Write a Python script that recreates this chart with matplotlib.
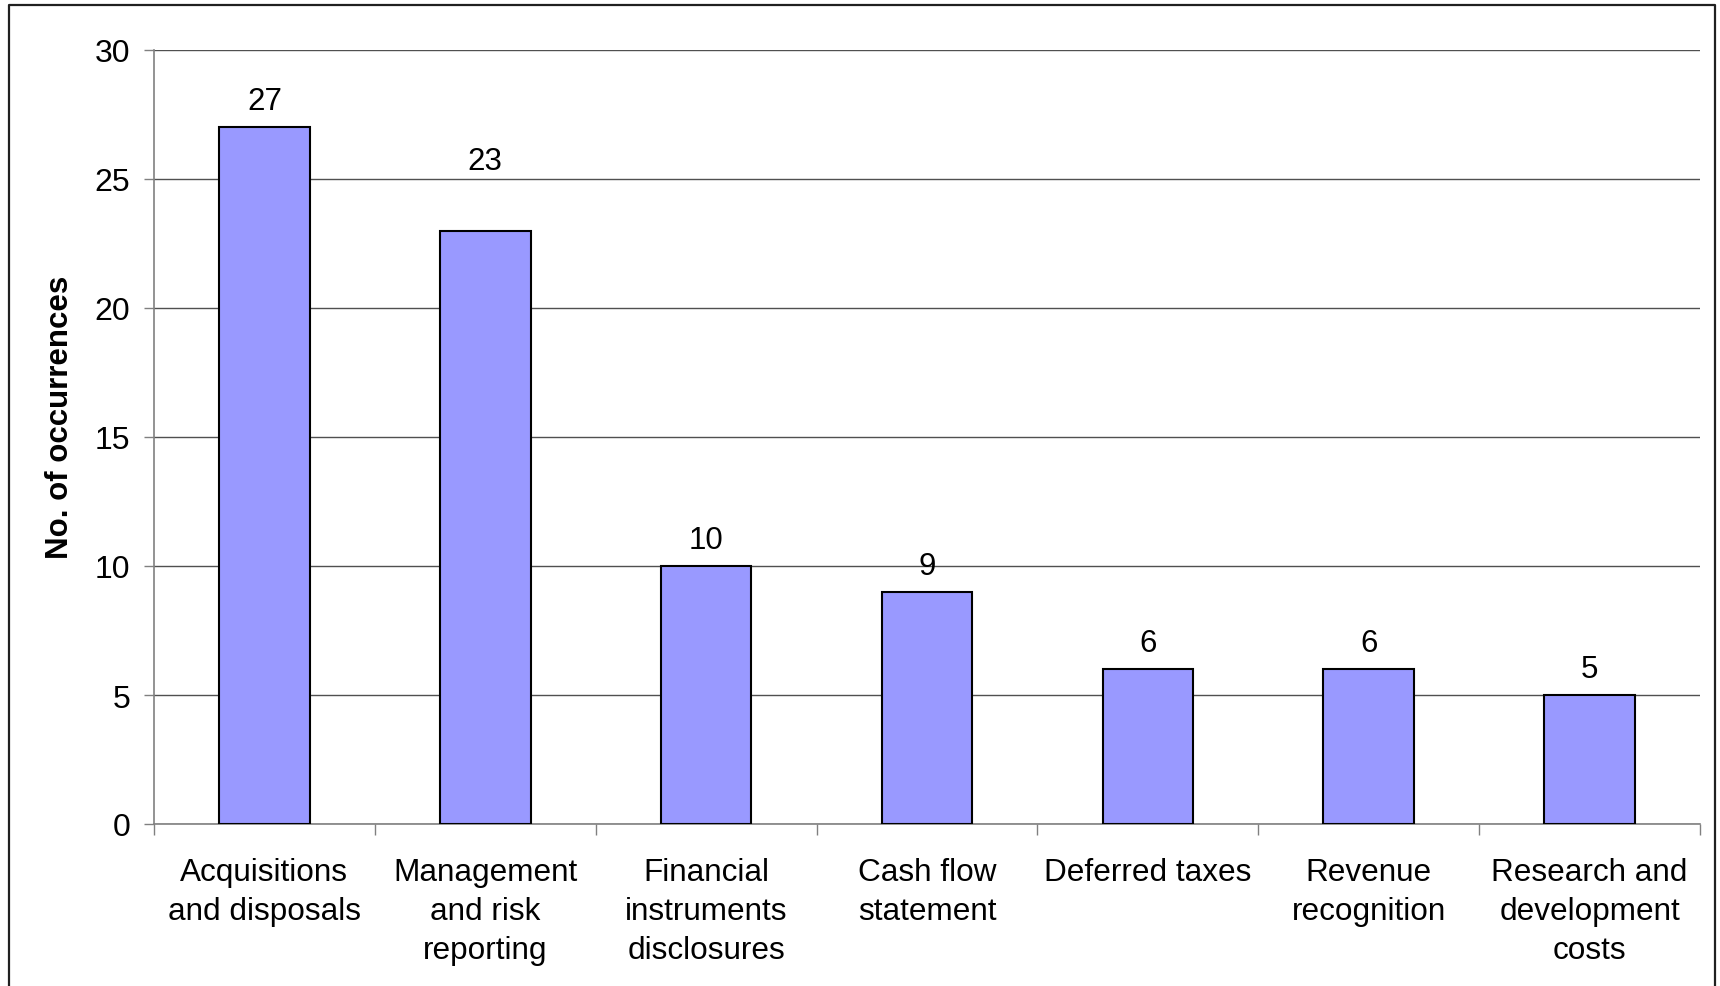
import numpy as np
import matplotlib
matplotlib.use('Agg')
import matplotlib.pyplot as plt
from matplotlib.lines import Line2D

categories = ['Acquisitions\nand disposals', 'Management\nand risk\nreporting',
              'Financial\ninstruments\ndisclosures', 'Cash flow\nstatement',
              'Deferred taxes', 'Revenue\nrecognition',
              'Research and\ndevelopment\ncosts']
counts = [27, 23, 10, 9, 6, 6, 5]
yticks = [0, 5, 10, 15, 20, 25, 30]

plt.rcParams['font.family'] = ['Liberation Sans', 'DejaVu Sans']

fig = plt.figure(figsize=(17.2, 9.87), dpi=100)
ax = fig.add_axes([154/1720, 1-825/987, (1700-154)/1720, (825-51)/987])

x = np.arange(len(categories))
bars = ax.bar(x, counts, width=0.41, color='#9999ff', edgecolor='black', linewidth=1.5, zorder=3)

# data labels (the 23 one sits higher in the original)
extra = {1: 31}
for i, (b, v) in enumerate(zip(bars, counts)):
    ax.annotate(str(v), (b.get_x() + b.get_width()/2, v), xytext=(0, 8 + extra.get(i, 0)),
                textcoords='offset points', ha='center', va='bottom', fontsize=22.5)

ax.set_xlim(-0.5, len(categories) - 0.5)
ax.set_ylim(0, 30)
ax.set_yticks(yticks)
ax.tick_params(axis='y', labelsize=23, length=7, width=1, color='#808080', pad=10)
ax.yaxis.grid(True, color='#505050', linewidth=1, zorder=0)

# category boundaries get the ticks, labels sit in the middle
ax.set_xticks(np.arange(len(categories) + 1) - 0.5)
ax.set_xticklabels([])
ax.tick_params(axis='x', which='major', length=8, width=1, color='#808080')
ax.set_xticks(x, minor=True)
ax.set_xticklabels(categories, minor=True, fontsize=22.7, linespacing=1.38)
ax.tick_params(axis='x', which='minor', length=0, pad=24)

for s in ['top', 'right']:
    ax.spines[s].set_visible(False)
for s in ['left', 'bottom']:
    ax.spines[s].set_color('#808080')
    ax.spines[s].set_linewidth(1.2)

ax.set_ylabel('No. of occurrences', fontsize=22.5, fontweight='bold')
ax.yaxis.set_label_coords(-0.051, 0.527)

# outer chart border
l, r, t = 9/1720, 1715/1720, 1 - 6/987
fig.add_artist(Line2D([l, l, r, r], [-0.05, t, t, -0.05], color='#202020', linewidth=1.6))

fig.savefig('out.png', dpi=100)
